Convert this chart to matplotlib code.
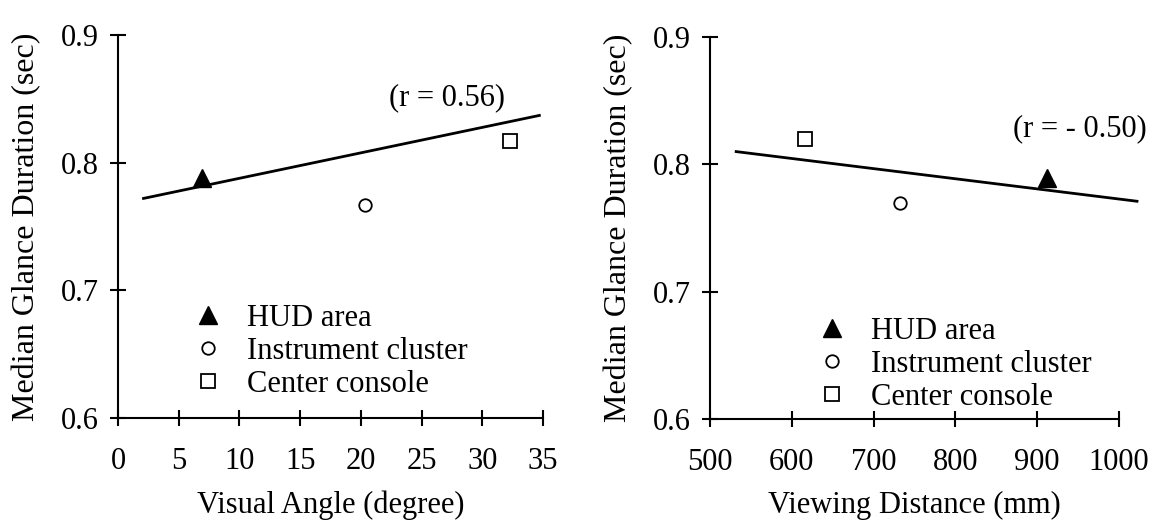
import matplotlib
matplotlib.use("Agg")
import matplotlib.pyplot as plt

plt.rcParams['font.family'] = ['Liberation Serif', 'DejaVu Serif']

# Data
categories = ["HUD area", "Instrument cluster", "Center console"]
markers = ["^", "o", "s"]
visual_angle = [6.9, 20.3, 32.3]
viewing_distance = [912, 732, 616]
glance_left = [0.788, 0.767, 0.817]
glance_right = [0.789, 0.770, 0.820]
fit_left_x = [2.1, 34.7]
fit_left_y = [0.772, 0.837]
fit_right_x = [532, 1022]
fit_right_y = [0.810, 0.771]
r_left = "(r = 0.56)"
r_right = "(r = - 0.50)"
yticks = [0.6, 0.7, 0.8, 0.9]
xticks_left = [0, 5, 10, 15, 20, 25, 30, 35]
xticks_right = [500, 600, 700, 800, 900, 1000]

FS = 22
fig = plt.figure(figsize=(11.53, 5.24), dpi=100)
ax1 = fig.add_axes([118/1153, 1-418/524, (543-118)/1153, (418-35)/524])
ax2 = fig.add_axes([710/1153, 1-419/524, (1119-710)/1153, (419-37)/524])

def style(ax, xticks, xlim):
    ax.set_xlim(*xlim)
    ax.set_ylim(0.6, 0.9)
    ax.set_yticks(yticks)
    ax.set_yticklabels([f"{v:.1f}" for v in yticks])
    ax.set_xticks(xticks)
    ax.set_xticklabels([str(v) for v in xticks])
    for s in ["top", "right"]:
        ax.spines[s].set_visible(False)
    for s in ["left", "bottom"]:
        ax.spines[s].set_linewidth(1.5)
    ax.tick_params(direction="inout", length=12, width=1.5, labelsize=FS)
    ax.tick_params(axis="x", pad=15)
    ax.tick_params(axis="y", pad=8)
    ax.set_ylabel("Median Glance Duration (sec)", fontsize=23, labelpad=14)

def plot_points(ax, xs, ys):
    for x, y, m, c in zip(xs, ys, markers, categories):
        if m == "^":
            ax.plot([x], [y], marker=m, ms=13, color="black", linestyle="none", label=c, clip_on=False)
        else:
            ax.plot([x], [y], marker=m, ms=10.5 if m == "s" else 9, markerfacecolor="white",
                    markeredgecolor="black", markeredgewidth=1.3, linestyle="none", label=c, clip_on=False)

style(ax1, xticks_left, (0, 35))
ax1.plot(fit_left_x, fit_left_y, color="black", lw=2, clip_on=False)
plot_points(ax1, visual_angle, glance_left)
ax1.text(27.1, 0.851, r_left, fontsize=FS, ha="center", va="center")
ax1.set_xlabel("Visual Angle (degree)", fontsize=FS, labelpad=10)

style(ax2, xticks_right, (500, 1000))
ax2.plot(fit_right_x, fit_right_y, color="black", lw=2, clip_on=False)
plot_points(ax2, viewing_distance, glance_right)
ax2.text(952, 0.828, r_right, fontsize=FS, ha="center", va="center", clip_on=False)
ax2.set_xlabel("Viewing Distance (mm)", fontsize=FS, labelpad=10)

leg1 = ax1.legend(loc="upper left", bbox_to_anchor=(0.175, 0.298), frameon=False, fontsize=FS,
                  handletextpad=0.8, labelspacing=0.13, handlelength=1.0, borderpad=0, borderaxespad=0)
leg2 = ax2.legend(loc="upper left", bbox_to_anchor=(0.26, 0.268), frameon=False, fontsize=FS,
                  handletextpad=0.8, labelspacing=0.13, handlelength=1.0, borderpad=0, borderaxespad=0)

fig.savefig("out.png", dpi=100)
